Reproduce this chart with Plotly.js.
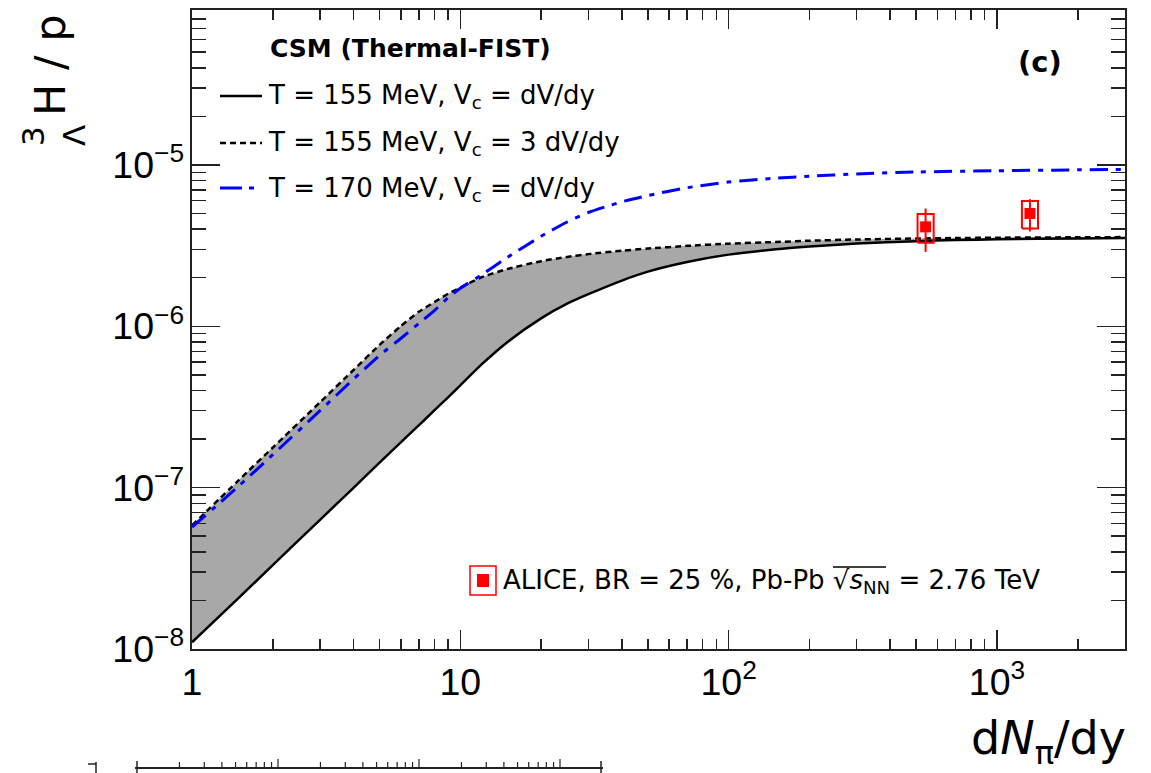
<!DOCTYPE html>
<html><head><meta charset="utf-8">
<script src="https://cdn.plot.ly/plotly-3.0.1.min.js"></script>
<style>html,body{margin:0;padding:0;background:#fff}#chart{width:1151px;height:773px}</style>
</head><body><div id="chart"></div>
<script>
// ---------------- data ----------------
const xModel = [1, 1.5, 2, 3, 4, 5, 6, 7, 8, 9, 10, 12, 15, 20, 25, 30, 40, 50, 70, 100, 150, 200, 300, 500, 700, 1000, 2000, 3000];
const ySolid155 = [1.10e-8, 2.09e-8, 3.31e-8, 6.32e-8, 9.98e-8, 1.43e-7, 1.91e-7, 2.43e-7, 3.01e-7, 3.63e-7, 4.30e-7, 5.80e-7, 8.0e-7, 1.12e-6, 1.38e-6, 1.58e-6, 1.92e-6, 2.18e-6, 2.50e-6, 2.78e-6, 3.00e-6, 3.12e-6, 3.26e-6, 3.37e-6, 3.42e-6, 3.46e-6, 3.50e-6, 3.52e-6];
const yDashed155 = [5.83e-8, 1.12e-7, 1.77e-7, 3.38e-7, 5.36e-7, 7.66e-7, 1.003e-6, 1.229e-6, 1.411e-6, 1.591e-6, 1.735e-6, 2.013e-6, 2.266e-6, 2.532e-6, 2.689e-6, 2.80e-6, 2.94e-6, 3.03e-6, 3.15e-6, 3.25e-6, 3.33e-6, 3.39e-6, 3.45e-6, 3.50e-6, 3.52e-6, 3.54e-6, 3.56e-6, 3.57e-6];
const xBlue170 = [1, 1.2, 1.5, 2, 3, 4, 5, 6, 7, 8, 9, 10, 12, 15, 20, 25, 30, 35, 40, 50, 70, 100, 150, 200, 300, 500, 1000, 2000, 3000];
const yBlue170 = [5.7e-8, 7.4e-8, 1.03e-7, 1.60e-7, 3.0e-7, 4.7e-7, 6.6e-7, 8.4e-7, 1.04e-6, 1.25e-6, 1.50e-6, 1.72e-6, 2.08e-6, 2.68e-6, 3.61e-6, 4.43e-6, 5.07e-6, 5.52e-6, 5.91e-6, 6.46e-6, 7.22e-6, 7.83e-6, 8.27e-6, 8.51e-6, 8.79e-6, 9.04e-6, 9.20e-6, 9.32e-6, 9.38e-6];
const xAlice = [542, 1327];
const yAlice = [4.13e-6, 5.0e-6];
const statAlice = [1.24e-6, 1.13e-6];
const sysAlice = [0.84e-6, 0.97e-6];

const legendTitle = 'CSM (Thermal-FIST)';
const legendNames = ['T = 155 MeV, V<sub>c</sub> = dV/dy', 'T = 155 MeV, V<sub>c</sub> = 3 dV/dy', 'T = 170 MeV, V<sub>c</sub> = dV/dy'];
const aliceLabel = 'ALICE, BR = 25 %, Pb-Pb √<i>s</i><sub>NN</sub> = 2.76 TeV';
const panelLabel = '(c)';

// ---------------- layout helpers ----------------
const FONT = 'DejaVu Sans, Verdana, sans-serif';
const TICKFONT = 'Liberation Sans, Arial, Helvetica, sans-serif';
const L = 192, R = 1125, T = 10, B = 649;
const W = R - L, H = B - T;
const px = v => (v - L) / W;
const py = v => (B - v) / H;
function ann(x, y, text, size, extra) {
  return Object.assign({xref: 'paper', yref: 'paper', x: px(x), y: py(y), text: text, showarrow: false,
    font: {family: FONT, size: size, color: '#000'}, xanchor: 'left', yanchor: 'middle'}, extra || {});
}
function seg(x0, y0, x1, y1, color, width, dash) {
  return {type: 'line', xref: 'paper', yref: 'paper', x0: px(x0), y0: py(y0), x1: px(x1), y1: py(y1),
    line: {color: color, width: width, dash: dash || 'solid'}};
}

// systematic boxes built from the ALICE arrays
const boxX = [], boxY = [];
const bw = Math.pow(10, 0.03);
for (let i = 0; i < xAlice.length; i++) {
  const x0 = xAlice[i] / bw, x1 = xAlice[i] * bw;
  const y0 = yAlice[i] - sysAlice[i], y1 = yAlice[i] + sysAlice[i];
  boxX.push(x0, x1, x1, x0, x0, null);
  boxY.push(y0, y0, y1, y1, y0, null);
}

const traces = [
  {x: xModel, y: ySolid155, mode: 'lines', line: {color: '#000', width: 2.5, shape: 'spline', smoothing: 0.6}, hoverinfo: 'skip'},
  {x: xModel, y: yDashed155, mode: 'lines', fill: 'tonexty', fillcolor: '#a8a8a8',
   line: {color: '#000', width: 2.5, dash: '6px,4px', shape: 'spline', smoothing: 0.6}, hoverinfo: 'skip'},
  {x: xBlue170, y: yBlue170, mode: 'lines', line: {color: '#0000ff', width: 3, dash: '18px,8px,5px,8px', shape: 'spline', smoothing: 0.6}},
  {x: boxX, y: boxY, mode: 'lines', line: {color: '#ff0000', width: 2}, connectgaps: false},
  {x: xAlice, y: yAlice, mode: 'markers', marker: {symbol: 'square', size: 11, color: '#ff0000'},
   error_y: {type: 'data', array: statAlice, visible: true, color: '#ff0000', thickness: 2, width: 0}}
];

const axisCommon = {
  type: 'log', showgrid: false, zeroline: false, showline: true, linecolor: '#222', linewidth: 2,
  mirror: 'ticks', ticks: 'inside', tickcolor: '#222', tickwidth: 1.5, dtick: 1,
  exponentformat: 'power', tickfont: {family: TICKFONT, size: 30, color: '#000'}
};

const shapes = [
  seg(220, 96, 262, 96, '#000', 2.5),
  seg(220, 143, 262, 143, '#000', 2.5, '6px,4px'),
  seg(220, 188, 262, 188, '#0000ff', 3, '22px,7px,5px,8px'),
  {type: 'rect', xref: 'paper', yref: 'paper', x0: px(470), x1: px(496), y0: py(566), y1: py(595), line: {color: '#ff0000', width: 1.5}},
  {type: 'rect', xref: 'paper', yref: 'paper', x0: px(477), x1: px(489), y0: py(574), y1: py(587), line: {width: 0}, fillcolor: '#ff0000'},
  // overline of the square root
  seg(833, 567, 886, 567, '#000', 1.5),
  // cropped fragment of the panel below
  seg(135, 768, 603, 768, '#222', 2),
  seg(137, 761, 137, 773, '#222', 1.5),
  seg(601, 761, 601, 773, '#222', 1.5),
  seg(88, 764, 96, 764, '#222', 1.5),
  seg(96, 762, 96, 773, '#222', 1.5)
];
const fragDec = 141;
for (let d = 0; d < 4; d++) {
  for (let k = 2; k <= 10; k++) {
    const xx = 137 + fragDec * (d + Math.log10(k));
    if (xx > 600) break;
    shapes.push(seg(xx, 768, xx, k === 10 ? 759 : 762, '#222', 1.2));
  }
}

const annotations = [
  ann(268, 49, '<b>' + legendTitle + '</b>', 25),
  ann(266, 97, legendNames[0], 26),
  ann(266, 143, legendNames[1], 26),
  ann(266, 189, legendNames[2], 26),
  ann(1040, 62, '<b>' + panelLabel + '</b>', 29, {xanchor: 'center'}),
  ann(501, 581, aliceLabel, 26),
  ann(1128, 741, 'd<i>N</i><sub>π</sub>/dy', 46, {xanchor: 'right'}),
  ann(50, 66, 'H / p', 43, {xanchor: 'center', textangle: -90}),
  ann(33, 136, '3', 31, {xanchor: 'center', textangle: -90}),
  ann(74, 136, 'Λ', 31, {xanchor: 'center', textangle: -90})
];

const layout = {
  width: 1151, height: 773,
  margin: {l: L, r: 1151 - R, t: T, b: 773 - B},
  paper_bgcolor: '#fff', plot_bgcolor: '#fff',
  showlegend: false,
  font: {family: FONT, color: '#000'},
  xaxis: Object.assign({}, axisCommon, {range: [0, Math.log10(3000)], ticklen: 19,
    minor: {ticks: 'inside', ticklen: 10, tickwidth: 1.5, tickcolor: '#222', dtick: 'D1', showgrid: false}}),
  yaxis: Object.assign({}, axisCommon, {range: [-8, -4.04], ticklen: 28,
    minor: {ticks: 'inside', ticklen: 14, tickwidth: 1.5, tickcolor: '#222', dtick: 'D1', showgrid: false}}),
  shapes: shapes,
  annotations: annotations
};

Plotly.newPlot('chart', traces, layout, {displayModeBar: false, staticPlot: true});
</script></body></html>
